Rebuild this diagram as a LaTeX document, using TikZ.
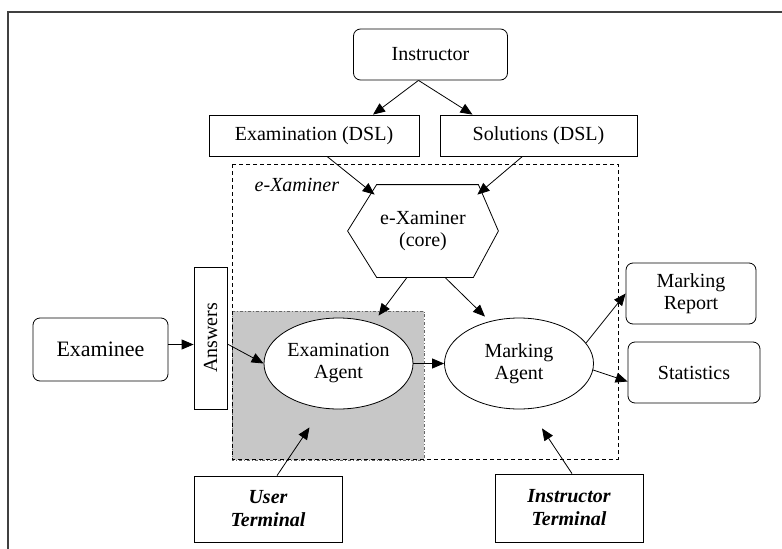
\documentclass[tikz,border=0pt]{standalone}
\usepackage{fontspec}
\setmainfont{Liberation Serif}
\usetikzlibrary{arrows.meta,shapes.geometric}

\begin{document}
\begin{tikzpicture}[x=1pt, y=-1pt, line width=0.8pt, font=\fontsize{20}{22}\selectfont, >={Triangle[length=12pt,width=10pt]},
	rbox/.style={draw, rounded corners=7pt, align=center, inner sep=0pt},
	sbox/.style={draw, align=center, inner sep=0pt},
	agent/.style={draw, ellipse, fill=white, align=center, inner sep=0pt, minimum width=149pt, minimum height=91pt},
	term/.style={sbox, font=\fontsize{20}{23}\selectfont\bfseries\itshape, minimum width=148pt}]
			\useasboundingbox (0,0) rectangle (782,549);
			\draw[black!75, line width=1.2pt] (782,12) -- (8,12) -- (8,549);
			\fill[black!22] (232,311) rectangle (424,460);
			\draw[black!60, dash dot] (232,311) rectangle (424,460);
			\draw[dash pattern=on 4pt off 3pt] (232,164) rectangle (618,459);
			\node[anchor=base west, font=\fontsize{20}{22}\selectfont\itshape] (xlabel) at (251,191) {e-Xaminer};
			\node[rbox, minimum width=154pt, minimum height=51pt] (instr) at (430.5,54.5) {Instructor};
			\node[sbox, minimum width=210pt, minimum height=41pt] (examdsl) at (314,135.5) {Examination (DSL)};
			\node[sbox, minimum width=197pt, minimum height=41pt] (soldsl) at (538.5,135.5) {Solutions (DSL)};
			\node[minimum width=150pt, minimum height=92pt, inner sep=0pt, align=center] (core) at (423,231) {e-Xaminer\\(core)};
			\draw (core.west) -- ([xshift=29pt]core.north west) coordinate (coretl) -- ([xshift=-20pt]core.north east) coordinate (coretr)
				-- (core.east) -- ([xshift=-25pt]core.south east) -- ([xshift=29pt]core.south west) -- cycle;
			\node[rbox, minimum width=135pt, minimum height=63pt, font=\fontsize{22}{24}\selectfont] (examinee) at (100.5,349.5) {Examinee};
			\node[sbox, minimum width=33pt, minimum height=142pt] (answers) at (210.5,338) {\rotatebox{90}{Answers}};
			\node[agent] (examagent) at (338.5,363.5) {Examination\\Agent};
			\node[agent] (markagent) at (519,363.5) {Marking\\Agent};
			\node[rbox, minimum width=130pt, minimum height=61pt] (report) at (691,293.5) {Marking\\Report};
			\node[rbox, minimum width=132pt, minimum height=61pt] (stats) at (694,372.5) {Statistics};
			\node[term, minimum height=66pt] (userterm) at (268,509) {User\\Terminal};
			\node[term, minimum height=68pt] (instrterm) at (569,508) {Instructor\\Terminal};
			\draw[->] ([xshift=-12pt]instr.south) -- ([xshift=59pt]examdsl.north);
			\draw[->] ([xshift=-12pt]instr.south) -- ([xshift=-66pt]soldsl.north);
			\draw[->] ([xshift=13pt]examdsl.south) -- ([shift={(-2pt,-10pt)}]coretl);
			\draw[->] ([xshift=-16pt]soldsl.south) -- ([shift={(-1pt,-10pt)}]coretr);
			\draw[->] ([xshift=-16pt]core.south) -- ([xshift=40pt,yshift=2pt]examagent.north);
			\draw[->] ([xshift=22pt]core.south) -- ([xshift=-34pt,yshift=1pt]markagent.north);
			\draw[->] ([yshift=5pt]examinee.east) -- ([yshift=5pt]examinee.east -| answers.west);
			\draw[->] ([yshift=-6pt]answers.east) -- (examagent.west);
			\draw[->] (examagent.east) -- (markagent.west);
			\draw[->] (markagent.17) -- (report.west);
			\draw[->] (markagent.-5) -- ([yshift=-9pt]stats.west);
			\draw[->] ([xshift=9pt]userterm.north) -- ([shift={(-29pt,-18pt)}]examagent.south);
			\draw[->] ([xshift=3pt]instrterm.north) -- ([shift={(23pt,-19pt)}]markagent.south);
		\end{tikzpicture}
\end{document}
